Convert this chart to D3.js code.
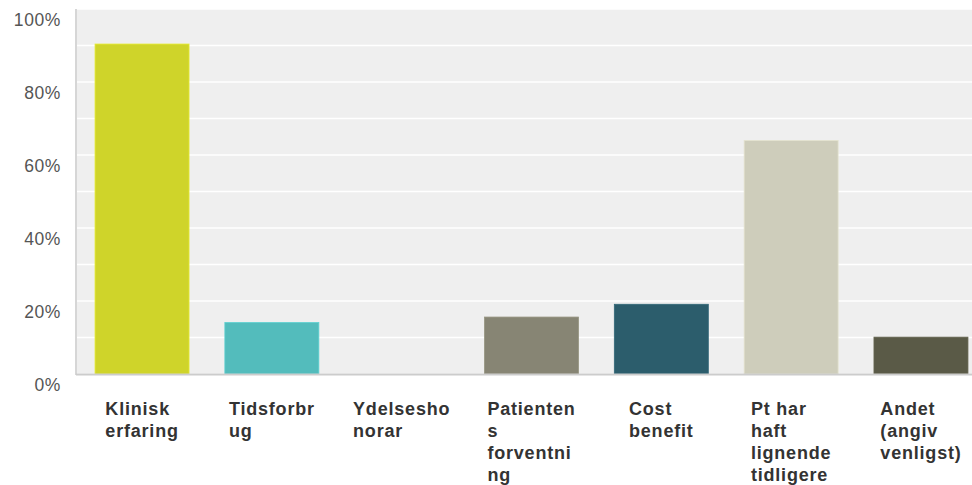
<!DOCTYPE html>
<html><head><meta charset="utf-8">
<script src="https://cdn.jsdelivr.net/npm/d3@7"></script>
<style>body{margin:0;background:#fff;}svg{display:block;}</style>
</head><body>
<svg id="c" width="972" height="485"></svg>
<script>
const categories = ["Klinisk erfaring","Tidsforbrug","Ydelseshonorar","Patientens forventning","Cost benefit","Pt har haft lignende tidligere","Andet (angiv venligst)"];
const labelLines = [["Klinisk","erfaring"],["Tidsforbr","ug"],["Ydelsesho","norar"],["Patienten","s","forventni","ng"],["Cost","benefit"],["Pt har","haft","lignende","tidligere"],["Andet","(angiv","venligst)"]];
const values = [0.904, 0.141, 0, 0.156, 0.191, 0.640, 0.101];
const colors = ["#cfd42a","#53bcbc","#a0a0a0","#878574","#2c5d6c","#cecdbb","#5a5a47"];
const yTicks = [0,0.2,0.4,0.6,0.8,1.0];
const gridTicks = [0,0.1,0.2,0.3,0.4,0.5,0.6,0.7,0.8,0.9,1.0];

(function(){
const svg = d3.select("#c");
const pLeft = 77, pTop = 9, pBottom = 374;
const x = d3.scaleBand().domain(categories).range([pLeft, 986]).paddingInner(0.276).paddingOuter(0.139);
const y = d3.scaleLinear().domain([0,1]).range([pBottom, pTop]);

svg.append("rect").attr("x", pLeft).attr("y", pTop).attr("width", 972-pLeft).attr("height", pBottom-pTop).attr("fill", "#efefef");
svg.append("g").selectAll("line").data(gridTicks).join("line")
  .attr("x1", pLeft).attr("x2", 972).attr("y1", d=>y(d)).attr("y2", d=>y(d))
  .attr("stroke", "#fff").attr("stroke-width", 1.5);

svg.append("g").selectAll("rect").data(categories).join("rect")
  .attr("x", d=>x(d)).attr("width", x.bandwidth())
  .attr("y", (d,i)=>y(values[i])).attr("height", (d,i)=>pBottom - y(values[i]))
  .attr("fill", (d,i)=>colors[i])
  .attr("stroke", (d,i)=> values[i] > 0 ? d3.color(colors[i]).brighter(0.3) : "none").attr("stroke-width", 0.8);

svg.append("line").attr("x1", 76).attr("x2", 76).attr("y1", pTop).attr("y2", pBottom+1).attr("stroke", "#d6d6d6").attr("stroke-width", 2);
svg.append("line").attr("x1", 76).attr("x2", 972).attr("y1", pBottom+0.5).attr("y2", pBottom+0.5).attr("stroke", "#cccccc").attr("stroke-width", 2);

svg.append("g").selectAll("text").data(yTicks).join("text")
  .attr("x", 61).attr("y", d=>y(d)+11).attr("dy", "0.35em").attr("text-anchor", "end")
  .attr("font-family", "Liberation Sans, Arial, sans-serif").attr("font-size", 17.5).attr("letter-spacing", "0.6px")
  .attr("fill", "#555").text(d=>Math.round(d*100)+"%");

const lg = svg.append("g").selectAll("text").data(categories).join("text")
  .attr("y", 415)
  .attr("font-family", "Liberation Sans, Arial, sans-serif").attr("font-size", 18).attr("font-weight", "bold")
  .attr("letter-spacing", "0.8px").attr("fill", "#333");
lg.each(function(d,i){
  const t = d3.select(this);
  const spans = labelLines[i].map((s,j)=> t.append("tspan").attr("y", 415 + j*22).text(s));
  const maxW = d3.max(spans, s => s.node().getComputedTextLength());
  const x0 = x(d) + x.bandwidth()/2 - maxW/2;
  spans.forEach(s => s.attr("x", x0));
});
})();
</script>
</body></html>
